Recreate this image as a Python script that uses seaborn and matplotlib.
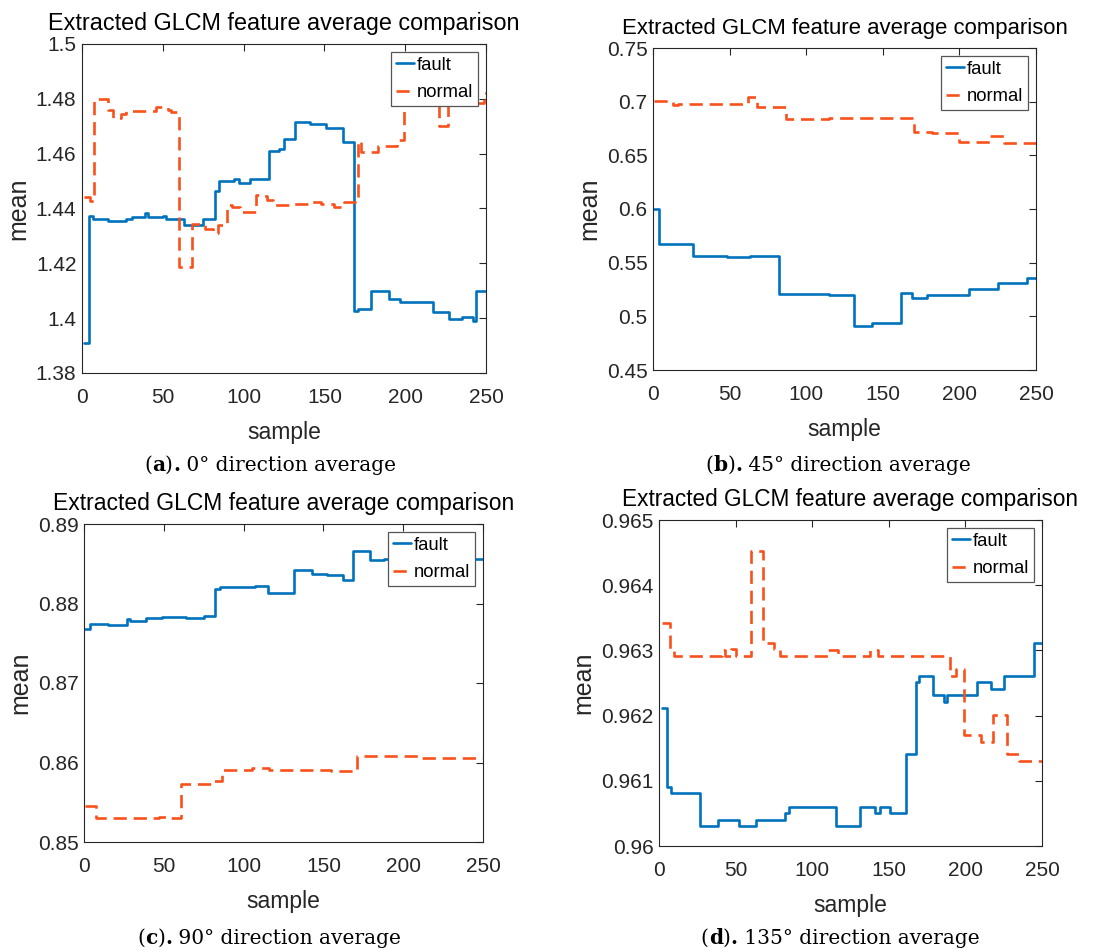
import numpy as np
import pandas as pd
import matplotlib
matplotlib.use("Agg")
import matplotlib.pyplot as plt
import seaborn as sns

# ---------------- data ----------------
title_text = "Extracted GLCM feature average comparison"
captions = [("a", "0° direction average"), ("b", "45° direction average"),
            ("c", "90° direction average"), ("d", "135° direction average")]
x_ticks = [0, 50, 100, 150, 200, 250]

a_fault_x = [1.5, 4.3, 7, 16, 27, 31, 39, 41, 50, 52, 63, 75, 82, 85, 94, 97, 104, 116, 122, 125,
             132, 141, 151, 161.5, 168.5, 171, 179, 190, 197, 217, 227, 235, 242, 244, 250]
a_fault_y = [1.391, 1.4371, 1.4362, 1.4353, 1.4362, 1.4368, 1.4383, 1.4368, 1.4372, 1.4362,
             1.4341, 1.4363, 1.4463, 1.4499, 1.4509, 1.4493, 1.4506, 1.4611, 1.4617, 1.4655,
             1.4714, 1.4709, 1.4695, 1.4641, 1.4025, 1.4033, 1.4100, 1.4071, 1.4060, 1.4022,
             1.3997, 1.4003, 1.3988, 1.4100, 1.4100]
a_normal_x = [1.5, 5, 7.3, 16, 19, 24, 27, 46, 53, 55, 60.2, 68, 76, 81, 84, 89.5, 93, 97.5, 107.8, 112,
              114.5, 118, 130, 141, 148, 156, 162, 170.5, 172.5, 183, 195, 199.5, 221, 226.5, 248.5, 250]
a_normal_y = [1.4442, 1.4428, 1.4801, 1.4760, 1.4730, 1.4745, 1.4757, 1.4770, 1.4760, 1.4753,
              1.4186, 1.4345, 1.4327, 1.4310, 1.4338, 1.4413, 1.4405, 1.4387, 1.4450, 1.4445,
              1.4432, 1.4411, 1.4418, 1.4425, 1.4418, 1.4405, 1.4422, 1.4648, 1.4605, 1.4627,
              1.4650, 1.4790, 1.4700, 1.4785, 1.4820, 1.4820]
a_yticks = [1.38, 1.40, 1.42, 1.44, 1.46, 1.48, 1.50]

b_fault_x = [0.5, 4, 26.2, 48, 63, 72, 82.2, 99, 115, 131, 143, 162, 169, 179, 206, 225, 244, 250]
b_fault_y = [0.6001, 0.5672, 0.5563, 0.5551, 0.5566, 0.5560, 0.5206, 0.5212, 0.5196, 0.4910,
             0.4941, 0.5215, 0.5168, 0.5196, 0.5252, 0.5314, 0.5358, 0.5358]
b_normal_x = [0.5, 13, 16, 62, 68, 86.7, 115, 170.5, 182, 199.5, 220, 229, 250]
b_normal_y = [0.7003, 0.6968, 0.6978, 0.7043, 0.6950, 0.6841, 0.6847, 0.6717, 0.6704, 0.6623,
              0.6682, 0.6614, 0.6614]
b_yticks = [0.45, 0.50, 0.55, 0.60, 0.65, 0.70, 0.75]

c_fault_x = [0.5, 4, 15, 27, 29, 39, 49, 64, 75, 82, 85, 107, 115.5, 131.3, 143, 152, 162, 168.5,
             179, 188, 250]
c_fault_y = [0.87683, 0.87746, 0.87734, 0.87805, 0.87784, 0.87822, 0.87834, 0.87818, 0.87839,
             0.88187, 0.88208, 0.88216, 0.88132, 0.88421, 0.88375, 0.88363, 0.88291, 0.88656,
             0.88543, 0.88556, 0.88556]
c_normal_x = [0.5, 7.5, 47, 53, 60.5, 80, 86.3, 105, 116, 155, 171, 211, 250]
c_normal_y = [0.85449, 0.85302, 0.85314, 0.85302, 0.85729, 0.85763, 0.85910, 0.85931, 0.85901,
              0.85889, 0.86086, 0.86057, 0.86057]
c_yticks = [0.85, 0.86, 0.87, 0.88, 0.89]

d_fault_x = [1.7, 5, 8, 26.5, 38.5, 52.5, 63.5, 82, 85, 115.5, 131.5, 141, 144, 151, 161.5, 168, 170,
             179, 186, 188, 207.5, 216.5, 225.5, 244.5, 250]
d_fault_y = [0.96211, 0.96091, 0.96081, 0.96030, 0.96040, 0.96030, 0.96040, 0.96050, 0.96060,
             0.96030, 0.96060, 0.96050, 0.96060, 0.96050, 0.96141, 0.96252, 0.96261, 0.96232,
             0.96221, 0.96232, 0.96251, 0.96241, 0.96261, 0.96311, 0.96311]
d_normal_x = [1.7, 7.5, 10, 41, 43, 47, 50, 60.1, 68.2, 75, 79, 110, 117, 138, 143, 190, 194, 199.3,
              210, 218, 227, 235, 250]
d_normal_y = [0.96342, 0.96300, 0.96291, 0.96300, 0.96291, 0.96302, 0.96291, 0.96452, 0.96311,
              0.96302, 0.96291, 0.96301, 0.96291, 0.96301, 0.96291, 0.96261, 0.96271, 0.96170,
              0.96160, 0.96201, 0.96141, 0.96130, 0.96130]
d_yticks = [0.960, 0.961, 0.962, 0.963, 0.964, 0.965]

# ---------------- style ----------------
sns.set_theme(style="white")
plt.rcParams["font.family"] = ["Liberation Sans", "DejaVu Sans"]
plt.rcParams["axes.edgecolor"] = "#262626"
plt.rcParams["axes.linewidth"] = 0.8

FAULT_C = "#0072BD"
NORMAL_C = "#F8511C"
TXT_C = "#262626"

fig = plt.figure(figsize=(11.12, 9.5), dpi=100)
W, H = 1112, 950

# axes rectangles in pixels: left, top, right, bottom
rects = [(82, 44, 486, 373), (653, 48, 1036, 370), (84, 524, 483, 842), (659, 520, 1042, 846)]
title_sizes = [16.8, 15.9, 16.5, 16.3]
panels = [
    (a_fault_x, a_fault_y, a_normal_x, a_normal_y, a_yticks),
    (b_fault_x, b_fault_y, b_normal_x, b_normal_y, b_yticks),
    (c_fault_x, c_fault_y, c_normal_x, c_normal_y, c_yticks),
    (d_fault_x, d_fault_y, d_normal_x, d_normal_y, d_yticks),
]


def fmt(v):
    return f"{v:.3f}".rstrip("0").rstrip(".")


for (l, t, r, b), tfs, (fx, fy, nx, ny, yt) in zip(rects, title_sizes, panels):
    ax = fig.add_axes([l / W, 1 - b / H, (r - l) / W, (b - t) / H])
    dff = pd.DataFrame({"sample": fx, "mean": fy})
    dfn = pd.DataFrame({"sample": nx, "mean": ny})
    sns.lineplot(data=dff, x="sample", y="mean", ax=ax, estimator=None, sort=False,
                 drawstyle="steps-post", color=FAULT_C, linewidth=1.9, label="fault")
    sns.lineplot(data=dfn, x="sample", y="mean", ax=ax, estimator=None, sort=False,
                 drawstyle="steps-post", color=NORMAL_C, linewidth=1.9,
                 linestyle=(0, (5, 2.6)), label="normal")
    ax.set_xlim(0, 250)
    ax.set_ylim(yt[0], yt[-1])
    ax.set_xticks(x_ticks)
    ax.set_xticklabels([str(v) for v in x_ticks])
    ax.set_yticks(yt)
    ax.set_yticklabels([fmt(v) for v in yt])
    ax.tick_params(axis="both", direction="in", top=True, right=True, length=5, width=0.8,
                   colors=TXT_C, labelsize=15)
    ax.tick_params(axis="x", pad=10.5)
    ax.tick_params(axis="y", pad=4)
    for sp in ax.spines.values():
        sp.set_visible(True)
        sp.set_color(TXT_C)
        sp.set_linewidth(0.8)
    ax.set_xlabel("sample", fontsize=16.5, color=TXT_C, labelpad=10.5)
    ax.set_ylabel("mean", fontsize=18, color=TXT_C, labelpad=4)
    ax.set_title(title_text, fontsize=tfs, color="black", pad=10)
    leg = ax.legend(loc="upper right", fontsize=13.3, frameon=True, fancybox=False,
                    framealpha=1, edgecolor="#555555", handlelength=1.0, handletextpad=0.12,
                    borderpad=0.25, labelspacing=0.55, borderaxespad=0.45)
    leg.get_frame().set_linewidth(0.9)
    for txt in leg.get_texts():
        txt.set_color("black")

# ---------------- captions ----------------
cap_ax = fig.add_axes([0, 0, 1, 1])
cap_ax.axis("off")
cap_ax.set_xlim(0, 1)
cap_ax.set_ylim(0, 1)
cap_centers = [(270, 471), (838, 471), (269, 944), (840, 944)]
SERIF = ["DejaVu Serif"]
CAP_FS = 14.5
cap_groups = []
for (cx, cy), (letter, rest) in zip(cap_centers, captions):
    first = cap_ax.text(cx / W, 1 - cy / H, "(", fontsize=CAP_FS, family=SERIF, ha="left",
                        va="baseline", color="black")
    arts = [first]
    prev = first
    for s, w in [(letter, "bold"), (")", "normal"), (".", "bold"), (" " + rest, "normal")]:
        a = cap_ax.annotate(s, xy=(1, 0), xycoords=prev, xytext=(0, 0), textcoords="offset points",
                            ha="left", va="bottom", fontsize=CAP_FS, family=SERIF,
                            fontweight=w, color="black")
        arts.append(a)
        prev = a
    cap_groups.append((cx, cy, arts))

fig.canvas.draw()
for cx, cy, arts in cap_groups:
    x0 = arts[0].get_window_extent().x0
    x1 = arts[-1].get_window_extent().x1
    arts[0].set_x((cx - (x1 - x0) / 2) / W)

fig.savefig("out.png", dpi=100)
